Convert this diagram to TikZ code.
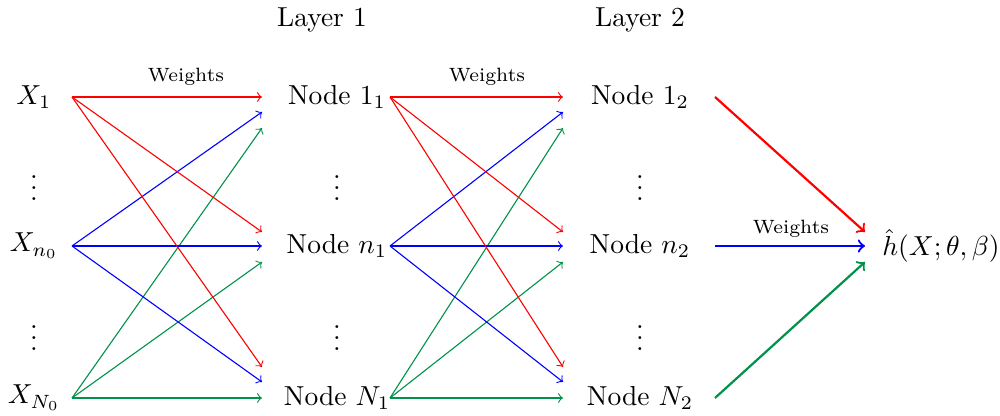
\documentclass[tikz,border=0pt]{standalone}
\definecolor{mygreen}{RGB}{0,145,75}
\begin{document}
\begin{tikzpicture}[>=to,line join=round,x=0.01278cm,y=-0.01278cm]
	\useasboundingbox (0,0) rectangle (1000,416);
	% inputs, hidden layers, output
	\node (x1) at (34,97) {$X_1$};
	\node (xn) at (34,246) {$X_{n_0}$};
	\node (xN) at (34,398) {$X_{N_0}$};
	\node (a1) at (337,97) {Node $1_1$};
	\node (an) at (337,246) {Node $n_1$};
	\node (aN) at (337,398) {Node $N_1$};
	\node (b1) at (640,97) {Node $1_2$};
	\node (bn) at (640,246) {Node $n_2$};
	\node (bN) at (640,398) {Node $N_2$};
	\node (out) at (941,246) {$\hat{h}(X;\theta,\beta)$};
	\node (lay1) at (322,20) {Layer 1};
	\node (lay2) at (640,20) {Layer 2};
	\foreach \x/\n in {34/x,337/a,640/b}{
		\node (\n d1) at (\x,180) {$\vdots$};
		\node (\n d2) at (\x,330) {$\vdots$};
	}
	% arrow ends
	\foreach \l/\xa/\xb in {1/72/262,2/390/563}{
		\coordinate (o\l-1) at (\xa,97);
		\coordinate (o\l-2) at (\xa,246);
		\coordinate (o\l-3) at (\xa,398);
		\coordinate (r\l-1) at (\xb,97);
		\coordinate (r\l-2) at (\xb,232);
		\coordinate (r\l-3) at (\xb,367);
		\coordinate (u\l-1) at (\xb,112);
		\coordinate (u\l-2) at (\xb,246);
		\coordinate (u\l-3) at (\xb,382);
		\coordinate (g\l-1) at (\xb,128);
		\coordinate (g\l-2) at (\xb,262);
		\coordinate (g\l-3) at (\xb,398);
	}
	\foreach \l in {1,2}{
		\foreach \k in {1,2,3}{
			\draw[->,red] (o\l-1) -- (r\l-\k);
			\draw[->,blue] (o\l-2) -- (u\l-\k);
			\draw[->,mygreen] (o\l-3) -- (g\l-\k);
		}
	}
	\coordinate (o3-1) at (715,97);
	\coordinate (o3-2) at (715,246);
	\coordinate (o3-3) at (715,398);
	\coordinate (f1) at (865,232);
	\coordinate (f2) at (865,246);
	\coordinate (f3) at (865,262);
	\draw[->,thick,red] (o3-1) -- (f1);
	\draw[->,thick,blue] (o3-2) -- (f2);
	\draw[->,thick,mygreen] (o3-3) -- (f3);
	\node[font=\scriptsize] (w1) at (186,77) {Weights};
	\node[font=\scriptsize] (w2) at (487,77) {Weights};
	\node[font=\scriptsize] (w3) at (791,229) {Weights};
\end{tikzpicture}
\end{document}
